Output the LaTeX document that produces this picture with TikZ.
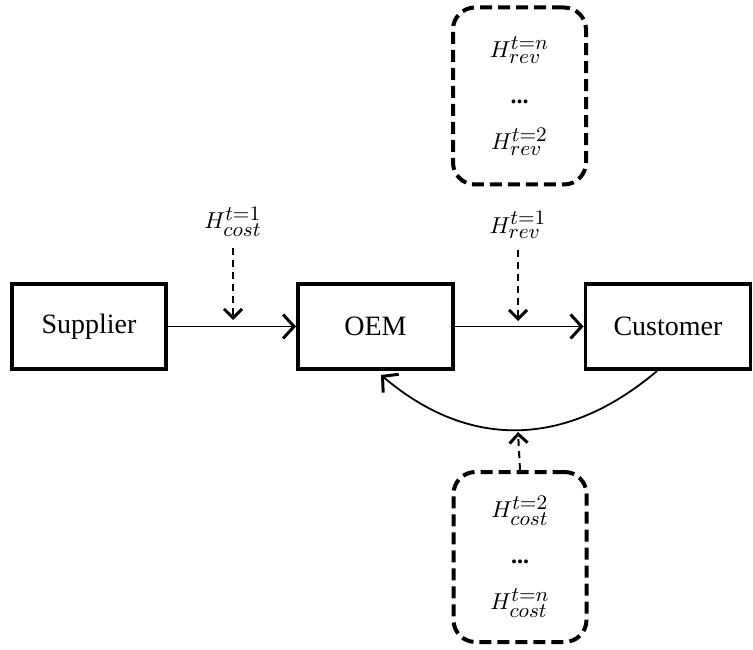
\documentclass[tikz,border=0pt]{standalone}
\usepackage{graphicx}
\usepackage{fontspec}
\setmainfont{Liberation Serif}
\DeclareMathSizes{10}{10}{9}{7}
\usetikzlibrary{arrows.meta}
\newcommand{\hm}[1]{\scalebox{2.3}{$#1$}}
\tikzset{
  entity/.style={draw, line width=3.8pt, minimum height=85pt, inner sep=0pt, font=\fontsize{28}{32}\selectfont},
  flow/.style={line width=1.8pt, -{Straight Barb[length=11pt, width=24pt, line width=3pt]}},
  hint/.style={line width=2pt, dash pattern=on 7pt off 5pt, -{Straight Barb[length=9pt, width=18pt, line width=3pt]}},
  hlabel/.style={inner sep=1pt, font=\fontsize{10}{12}\selectfont},
  hbox/.style={draw, line width=4pt, dash pattern=on 12pt off 6pt, rounded corners=22pt,
    minimum width=133pt, align=center, font=\fontsize{10}{46}\selectfont, inner sep=0pt}
}
\begin{document}
\begin{tikzpicture}[x=1pt, y=-1pt]
\useasboundingbox (0,0) rectangle (753,650);
\node[entity, minimum width=154pt] (sup) at (89,326.5) {Supplier};
\node[entity, minimum width=155pt] (oem) at (375.5,326.5) {OEM};
\node[entity, minimum width=165pt] (cus) at (668,326.5) {Customer};

\draw[flow] (sup) -- (oem);
\draw[flow] (oem) -- (cus);

\node[hlabel] (hc1) at (233,222) {\hm{H^{t=1}_{cost}}};
\node[hlabel] (hr1) at (518,225) {\hm{H^{t=1}_{rev}}};
\coordinate (c1) at (233,320);
\coordinate (c2) at (518,321);
\draw[hint, shorten <=10pt] (hc1.south) -- (c1);
\draw[hint, shorten <=10pt] (hr1.south) -- (c2);

\node[hbox, minimum height=177pt] (top) at (519.5,96)
  {\hm{H^{t=n}_{rev}}\\ {\fontsize{24}{24}\bfseries ...}\\ \hm{H^{t=2}_{rev}}};
\node[hbox, minimum height=170pt] (bot) at (520,557)
  {\hm{H^{t=2}_{cost}}\\ {\fontsize{24}{24}\bfseries ...}\\ \hm{H^{t=n}_{cost}}};

\coordinate (cs) at (657,371);
\coordinate (os) at (381,375);
\coordinate (low) at (518,432);
\draw[flow] (cs) .. controls (565,449) and (468,449) .. (os);
\draw[hint] (bot.north) -- (low);
\end{tikzpicture}
\end{document}
